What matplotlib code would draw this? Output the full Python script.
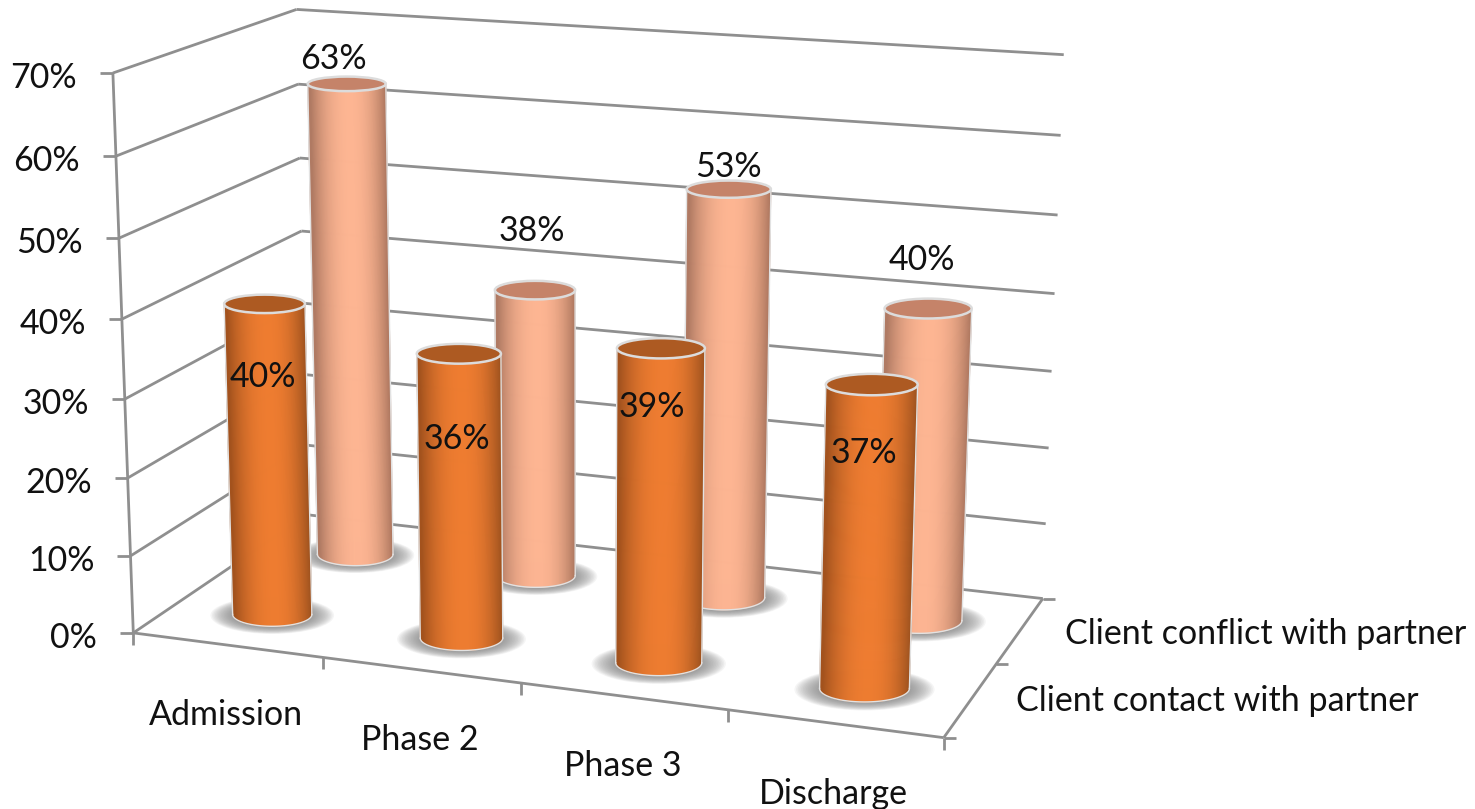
import numpy as np
import matplotlib
matplotlib.use("Agg")
import matplotlib.pyplot as plt
from matplotlib.patches import Ellipse
from matplotlib.colors import to_rgb

categories = ["Admission", "Phase 2", "Phase 3", "Discharge"]
series_names = ["Client contact with partner", "Client conflict with partner"]
contact = [40, 36, 39, 37]
conflict = [63, 38, 53, 40]
value_ticks = [0, 10, 20, 30, 40, 50, 60, 70]
V_MAX = 70

# label offsets from each cylinder's lid centre, in pixels
conflict_label_dx = [-13, -3, 0, -6]
conflict_label_dy = [-25, -59, -22, -49]
contact_label_dx = [-2, -2, -9, -8]
contact_label_dy = [73, 85, 59, 68]

plt.rcParams["font.family"] = ["Lato", "DejaVu Sans"]

# camera calibration: (category, depth, value) box coords -> pixel
box = np.array([
    (0, 0, 0), (0, 0, 1), (0, 1, 1), (0, 1, 0), (1, 1, 1), (1, 1, 0), (1, 0, 0),
    (.25, 0, 0), (.5, 0, 0), (.75, 0, 0), (1, .5, 0),
    (0, 0, 1/7), (0, 0, 2/7), (0, 0, 3/7), (0, 0, 4/7), (0, 0, 5/7), (0, 0, 6/7),
    (1, 1, 1/7), (1, 1, 2/7), (1, 1, 3/7), (1, 1, 4/7), (1, 1, 5/7), (1, 1, 6/7),
], float)
pix = np.array([
    (134, 632), (113, 73), (295, 12), (307, 514), (1062, 55), (1040, 598), (943, 735),
    (323, 660), (522, 687), (727, 713), (993, 663),
    (131, 555), (128, 478), (125, 399), (122, 318), (119, 236), (116, 155),
    (1047, 522), (1052, 447), (1054, 372), (1056, 295), (1058, 215), (1060, 135),
], float)
A = []
b = []
for (X, Y, Z), (px, py) in zip(box, pix):
    A.append([X, Y, Z, 1, 0, 0, 0, 0, -px*X, -px*Y, -px*Z])
    A.append([0, 0, 0, 0, X, Y, Z, 1, -py*X, -py*Y, -py*Z])
    b += [px, py]
P = np.append(np.linalg.lstsq(np.array(A), np.array(b), rcond=None)[0], 1).reshape(3, 4)


def proj(u, v, w):
    q = P @ np.array([u, v, w, 1.0])
    return q[:2] / q[2]


fig = plt.figure(figsize=(14.75, 8.09), dpi=100)
ax = fig.add_axes([0, 0, 1, 1])
ax.set_xlim(0, 1475)
ax.set_ylim(809, 0)
ax.axis("off")

GRID = "#8f8f8f"
LW = 2.0


def seg(a, b, **kw):
    ax.plot([a[0], b[0]], [a[1], b[1]], color=GRID, lw=LW, solid_capstyle="butt", zorder=1, **kw)


# walls and gridlines
for t in value_ticks:
    w = t / V_MAX
    seg(proj(0, 0, w), proj(0, 1, w))
    seg(proj(0, 1, w), proj(1, 1, w))
    a = proj(0, 0, w)
    seg(a, (a[0] - 13, a[1]))
seg(proj(0, 0, 0), proj(0, 0, 1))
seg(proj(0, 0, 0), proj(1, 0, 0))
seg(proj(1, 0, 0), proj(1, 1, 0))
for i in range(len(categories) + 1):
    a = proj(i / len(categories), 0, 0)
    seg(a, (a[0], a[1] + 12))
for j in range(len(series_names) + 1):
    a = proj(1, j / len(series_names), 0)
    seg(a, (a[0] + 12, a[1]))


def flatness(value):
    # ellipses flatten as they rise towards the eye level
    return 0.30 - 0.0018 * value


def cylinder(u, v, value, left, bright, right, lid, z):
    w = value / V_MAX
    ru = 0.053
    c0 = proj(u, v, 0) + np.array([0, 2.0])
    c1 = proj(u, v, w)
    a0 = np.linalg.norm(proj(u + ru, v, 0) - proj(u - ru, v, 0)) / 2
    a1 = np.linalg.norm(proj(u + ru, v, w) - proj(u - ru, v, w)) / 2
    r0 = flatness(0)
    r1 = flatness(value)
    # soft contact shadow, fading out from the base
    scales = np.linspace(1.56, 1.0, 16)
    for s in scales:
        ax.add_patch(Ellipse(c0 + (0, 1), 2 * a0 * s, 2 * a0 * s * r0,
                             fc="#808080", ec="none", alpha=0.08, zorder=z))
    # body built of vertical strips, dark at the rims and bright near the centre
    n = 90
    ts = np.linspace(-1, 1, n + 1)
    lc = np.array(to_rgb(left))
    rc = np.array(to_rgb(right))
    bc = np.array(to_rgb(bright))
    for i in range(n):
        t0, t1 = ts[i], ts[i + 1]
        tm = (t0 + t1) / 2
        m = np.clip(1 - np.abs(tm - 0.08) ** 2.2, 0, 1)
        edge = lc if tm < 0.08 else rc
        col = edge + (bc - edge) * m
        xs = [c1[0] + a1 * t0, c1[0] + a1 * t1, c0[0] + a0 * t1, c0[0] + a0 * t0]
        ys = [c1[1], c1[1],
              c0[1] + a0 * r0 * np.sqrt(max(0, 1 - t1 ** 2)),
              c0[1] + a0 * r0 * np.sqrt(max(0, 1 - t0 ** 2))]
        ax.fill(xs, ys, color=col, lw=0.6, zorder=z + 1)
    # rims
    for sgn in (-1, 1):
        ax.plot([c1[0] + sgn * a1, c0[0] + sgn * a0], [c1[1], c0[1]], color="#e2e2e2", lw=1.0, zorder=z + 2)
    th = np.linspace(0, np.pi, 60)
    ax.plot(c0[0] + a0 * np.cos(th), c0[1] + a0 * r0 * np.sin(th), color="#e2e2e2", lw=1.0, zorder=z + 2)
    ax.add_patch(Ellipse(c1, 2 * a1, 2 * a1 * r1, fc=lid, ec="#dcdcdc", lw=1.8, zorder=z + 3))
    return c1


tops_back = [cylinder((i + .5) / 4, .75, val, "#b07a63", "#fdb592", "#9e6b55", "#c58369", 10 + i)
             for i, val in enumerate(conflict)]
tops_front = [cylinder((i + .5) / 4, .25, val, "#a3521d", "#ee7c30", "#8f4a1b", "#ad5a22", 20 + i)
              for i, val in enumerate(contact)]

FS = 24.5
TXT = "#111111"
for t in value_ticks:
    a = proj(0, 0, t / V_MAX)
    ax.text(a[0] - 36, a[1] + 5, f"{t}%", ha="right", va="center", fontsize=FS, color=TXT, zorder=40)

for i, name in enumerate(categories):
    a = proj((i + .5) / 4, 0, 0)
    ax.text(a[0] - 1, a[1] + 70, name, ha="center", va="center", fontsize=FS, color=TXT, zorder=40)

for j, name in enumerate(series_names):
    a = proj(1, (j + .5) / 2, 0)
    ax.text(a[0] + 45, a[1] + (4 if j == 1 else 1), name, ha="left", va="center", fontsize=FS, color=TXT, zorder=40)

for val, c, dx, dy in zip(conflict, tops_back, conflict_label_dx, conflict_label_dy):
    ax.text(c[0] + dx, c[1] + dy, f"{val}%", ha="center", va="center", fontsize=FS, color=TXT, zorder=40)
for val, c, dx, dy in zip(contact, tops_front, contact_label_dx, contact_label_dy):
    ax.text(c[0] + dx, c[1] + dy, f"{val}%", ha="center", va="center", fontsize=FS, color=TXT, zorder=40)

fig.savefig("out.png", dpi=100, facecolor="white")
